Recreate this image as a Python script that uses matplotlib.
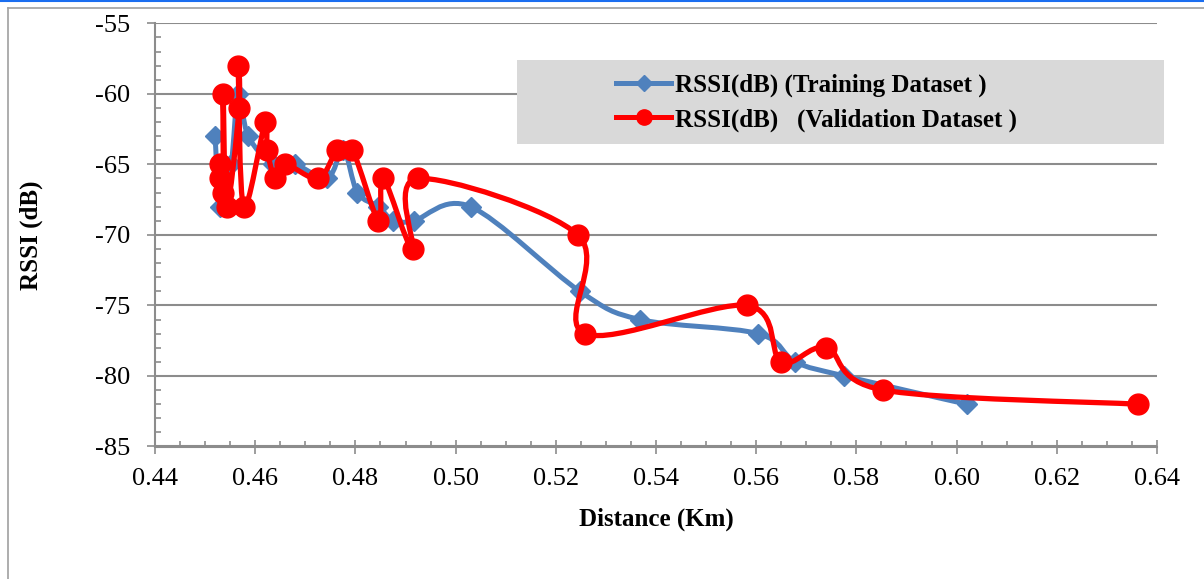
"""RSSI vs distance: training and validation datasets (Excel-style smooth lines)."""

import numpy as np
import matplotlib
matplotlib.use("Agg")
import matplotlib.pyplot as plt
from matplotlib.lines import Line2D
from matplotlib.patches import PathPatch, Rectangle
from matplotlib.path import Path
from matplotlib.ticker import MultipleLocator, FormatStrFormatter

plt.rcParams["axes.unicode_minus"] = False

# Training dataset, in data order
train_dist = [0.4520, 0.4530, 0.4552, 0.4566, 0.4586, 0.4636, 0.4680, 0.4744,
              0.4776, 0.4804, 0.4846, 0.4876, 0.4916, 0.5030, 0.5248, 0.5368,
              0.5604, 0.5678, 0.5776, 0.6020]
train_rssi = [-63, -68, -65, -60, -63, -65, -65, -66,
              -64, -67, -68, -69, -69, -68, -74, -76,
              -77, -79, -80, -82]

# Validation dataset, in data order
val_dist = [0.4530, 0.4530, 0.4536, 0.4536, 0.4543, 0.4568, 0.4566, 0.4577,
            0.4620, 0.4624, 0.4640, 0.4660, 0.4726, 0.4764, 0.4794, 0.4846,
            0.4856, 0.4914, 0.4924, 0.5244, 0.5258, 0.5582, 0.5650, 0.5740,
            0.5854, 0.6362]
val_rssi = [-66, -65, -67, -60, -68, -61, -58, -68,
            -62, -64, -66, -65, -66, -64, -64, -69,
            -66, -71, -66, -70, -77, -75, -79, -78,
            -81, -82]

BLUE = "#4F81BD"
RED = "#FF0000"
GRID = "#8C8C8C"
SERIF = "Liberation Serif"


def smooth_path(xs, ys):
    # Catmull-Rom through the points, written as cubic Bezier segments
    p = np.column_stack([xs, ys]).astype(float)
    ext = np.vstack([p[0], p, p[-1]])
    verts = [p[0]]
    codes = [Path.MOVETO]
    for i in range(len(p) - 1):
        p0, p1, p2, p3 = ext[i], ext[i + 1], ext[i + 2], ext[i + 3]
        verts += [p1 + (p2 - p0) / 6, p2 - (p3 - p1) / 6, p2]
        codes += [Path.CURVE4] * 3
    return Path(verts, codes)


def main():
    fig = plt.figure(figsize=(12.04, 5.79), dpi=100)
    ax = fig.add_axes([155 / 1204, 1 - 446.5 / 579, 1002 / 1204, 423.2 / 579])

    ax.set_xlim(0.44, 0.64)
    ax.set_ylim(-85, -55)

    ax.add_patch(PathPatch(smooth_path(train_dist, train_rssi), fc="none", ec=BLUE,
                           lw=3.6, capstyle="round", joinstyle="round", zorder=3))
    ax.plot(train_dist, train_rssi, ls="none", marker="D", ms=10, color=BLUE, zorder=4)
    ax.add_patch(PathPatch(smooth_path(val_dist, val_rssi), fc="none", ec=RED,
                           lw=3.8, capstyle="round", joinstyle="round", zorder=5))
    ax.plot(val_dist, val_rssi, ls="none", marker="o", ms=15, color=RED, zorder=6)

    ax.xaxis.set_major_locator(MultipleLocator(0.02))
    ax.xaxis.set_minor_locator(MultipleLocator(0.005))
    ax.yaxis.set_major_locator(MultipleLocator(5))
    ax.yaxis.set_minor_locator(MultipleLocator(1))
    ax.xaxis.set_major_formatter(FormatStrFormatter("%.2f"))
    ax.yaxis.set_major_formatter(FormatStrFormatter("%d"))

    ax.yaxis.grid(True, which="major", color=GRID, lw=1.5, zorder=0)
    ax.set_axisbelow(True)
    for side in ("top", "right"):
        ax.spines[side].set_visible(False)
    for side in ("left", "bottom"):
        ax.spines[side].set_color(GRID)
        ax.spines[side].set_linewidth(1.5)

    ax.tick_params(axis="x", which="major", direction="inout", length=9.5, width=1.2,
                   color=GRID, pad=11, labelsize=19)
    ax.tick_params(axis="x", which="minor", direction="in", length=4.3, width=1.2, color=GRID)
    ax.tick_params(axis="y", which="major", direction="out", length=5.8, width=1.2,
                   color=GRID, pad=12, labelsize=19)
    ax.tick_params(axis="y", which="minor", direction="in", length=4.3, width=1.2, color=GRID)
    for lab in ax.get_xticklabels() + ax.get_yticklabels():
        lab.set_fontfamily(SERIF)

    fig.text(31 / 1204, 1 - 235 / 579, "RSSI (dB)", rotation=90, ha="center", va="center",
             fontsize=18, fontweight="bold", family=SERIF)
    fig.text(656 / 1204, 1 - 519 / 579, "Distance (Km)", ha="center", va="center",
             fontsize=18, fontweight="bold", family=SERIF)

    # legend: grey box with the two entries
    fig.add_artist(Rectangle((517 / 1204, 1 - 144 / 579), 647 / 1204, 84 / 579,
                             transform=fig.transFigure, fc="#D9D9D9", ec="none", zorder=1))
    handles = [
        Line2D([], [], color=BLUE, lw=3.6, marker="D", ms=8),
        Line2D([], [], color=RED, lw=3.6, marker="o", ms=11),
    ]
    labels = ["RSSI(dB) (Training Dataset )", "RSSI(dB)   (Validation Dataset )"]
    leg = fig.legend(handles, labels, loc="center left",
                     bbox_to_anchor=(616 / 1204, 1 - 102.5 / 579), frameon=False,
                     handlelength=2.2, handletextpad=0.15, labelspacing=0.45,
                     borderpad=0, borderaxespad=0,
                     prop={"family": SERIF, "weight": "bold", "size": 18})
    leg.set_zorder(2)

    # outer frame of the picture
    fig.add_artist(Line2D([0, 1], [1 - 1 / 579, 1 - 1 / 579], transform=fig.transFigure,
                          color="#1A6EF0", lw=1.5))
    fig.add_artist(Line2D([8 / 1204, 1], [1 - 7.5 / 579, 1 - 7.5 / 579],
                          transform=fig.transFigure, color="#A0A0A0", lw=1.2))
    fig.add_artist(Line2D([8 / 1204, 8 / 1204], [0, 1 - 7.5 / 579],
                          transform=fig.transFigure, color="#A0A0A0", lw=1.2))

    fig.savefig("out.png", dpi=100)
    plt.close(fig)


if __name__ == "__main__":
    main()
